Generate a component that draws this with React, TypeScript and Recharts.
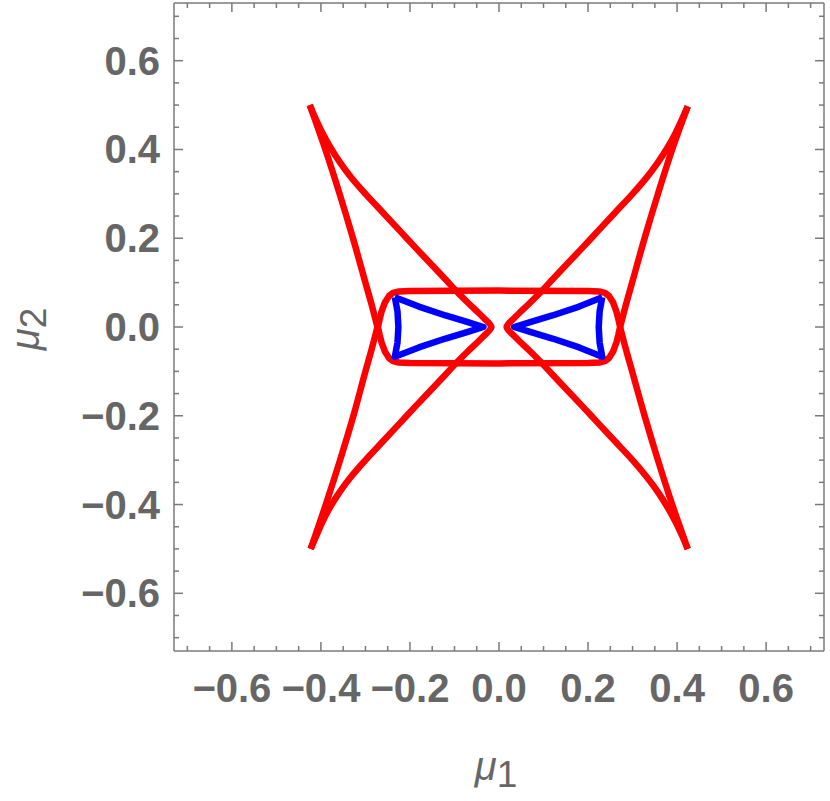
import { ScatterChart, Scatter, XAxis, YAxis } from "recharts"

const RED = "#ff0000"
const BLUE = "#0000ff"
const FRAME = "#7a7a7a"
const TEXT = "#666666"
const FONT = "'Liberation Sans', Arial, sans-serif"

// frame ticks: minor every 0.05, labelled every 0.2
const TICKS = [
  -0.7, -0.65, -0.6, -0.55, -0.5, -0.45, -0.4, -0.35, -0.3, -0.25, -0.2, -0.15, -0.1, -0.05, 0,
  0.05, 0.1, 0.15, 0.2, 0.25, 0.3, 0.35, 0.4, 0.45, 0.5, 0.55, 0.6, 0.65, 0.7,
]
const MAJOR_TICKS = [-0.6, -0.4, -0.2, 0, 0.2, 0.4, 0.6]

type Pt = [number, number]

// red caustic: outer branches (cusp -> fold at y=0)
const outerTopLeft: Pt[] = [
  [-0.425, 0.5], [-0.39, 0.4], [-0.358, 0.3], [-0.328, 0.2], [-0.3, 0.1], [-0.286, 0.05], [-0.273, 0],
]
const outerBottomLeft: Pt[] = [
  [-0.423, -0.5], [-0.389, -0.4], [-0.357, -0.3], [-0.327, -0.2], [-0.3, -0.1], [-0.286, -0.05], [-0.273, 0],
]
const outerTopRight: Pt[] = [
  [0.424, 0.497], [0.389, 0.4], [0.357, 0.3], [0.327, 0.2], [0.299, 0.1], [0.285, 0.05], [0.272, 0],
]
const outerBottomRight: Pt[] = [
  [0.424, -0.5], [0.389, -0.4], [0.357, -0.3], [0.327, -0.2], [0.299, -0.1], [0.285, -0.05], [0.272, 0],
]

// red caustic: inner branches (top cusp -> rounded tip near centre -> bottom cusp)
const innerLeft: Pt[] = [
  [-0.425, 0.5], [-0.413, 0.472], [-0.398, 0.44], [-0.38, 0.407], [-0.358, 0.372], [-0.332, 0.337],
  [-0.3, 0.3], [-0.26, 0.257], [-0.222, 0.216], [-0.185, 0.176], [-0.148, 0.137], [-0.12, 0.107],
  [-0.095, 0.08], [-0.068, 0.053], [-0.045, 0.031], [-0.03, 0.016], [-0.021, 0.007], [-0.017, 0],
  [-0.021, -0.007], [-0.03, -0.016], [-0.045, -0.031], [-0.068, -0.053], [-0.095, -0.08],
  [-0.12, -0.107], [-0.148, -0.137], [-0.185, -0.176], [-0.222, -0.216], [-0.26, -0.257],
  [-0.3, -0.3], [-0.332, -0.337], [-0.358, -0.372], [-0.38, -0.407], [-0.397, -0.44],
  [-0.411, -0.472], [-0.423, -0.5],
]
const innerRight: Pt[] = [
  [0.424, 0.497], [0.412, 0.47], [0.397, 0.438], [0.379, 0.405], [0.357, 0.371], [0.331, 0.336],
  [0.3, 0.3], [0.26, 0.257], [0.222, 0.216], [0.185, 0.176], [0.148, 0.137], [0.12, 0.107],
  [0.095, 0.08], [0.068, 0.053], [0.045, 0.031], [0.03, 0.016], [0.021, 0.007], [0.017, 0],
  [0.021, -0.007], [0.03, -0.016], [0.045, -0.031], [0.068, -0.053], [0.095, -0.08],
  [0.12, -0.107], [0.148, -0.137], [0.185, -0.176], [0.222, -0.216], [0.26, -0.257],
  [0.3, -0.3], [0.331, -0.337], [0.357, -0.372], [0.379, -0.407], [0.397, -0.44],
  [0.412, -0.472], [0.424, -0.5],
]

// red rounded box around the origin
const box: Pt[] = [
  [-0.272, 0], [-0.268, 0.018], [-0.264, 0.034], [-0.256, 0.056], [-0.247, 0.07], [-0.238, 0.077],
  [-0.225, 0.08], [-0.2, 0.081], [0, 0.082], [0.2, 0.081], [0.225, 0.08], [0.238, 0.077],
  [0.247, 0.07], [0.256, 0.056], [0.264, 0.034], [0.268, 0.018], [0.272, 0], [0.268, -0.018],
  [0.264, -0.034], [0.256, -0.056], [0.247, -0.07], [0.238, -0.077], [0.225, -0.08], [0.2, -0.081],
  [0, -0.082], [-0.2, -0.081], [-0.225, -0.08], [-0.238, -0.077], [-0.247, -0.07], [-0.256, -0.056],
  [-0.264, -0.034], [-0.268, -0.018], [-0.272, 0],
]

// blue triangles
const blueLeft: Pt[] = [
  [-0.234, 0.067], [-0.18, 0.046], [-0.12, 0.026], [-0.07, 0.011], [-0.035, 0], [-0.07, -0.011],
  [-0.12, -0.026], [-0.18, -0.046], [-0.234, -0.067], [-0.228, -0.035], [-0.226, 0],
  [-0.228, 0.035], [-0.234, 0.067],
]
const blueRight: Pt[] = [
  [0.232, 0.067], [0.18, 0.046], [0.12, 0.026], [0.07, 0.011], [0.034, 0], [0.07, -0.011],
  [0.12, -0.026], [0.18, -0.046], [0.232, -0.067], [0.226, -0.035], [0.224, 0],
  [0.226, 0.035], [0.232, 0.067],
]

const RED_BRANCHES = [outerTopLeft, outerBottomLeft, outerTopRight, outerBottomRight, innerLeft, innerRight]
const BLUE_CURVES = [blueLeft, blueRight]

const DOMAIN: [number, number] = [-0.73, 0.73]
const STROKE = 6.5

const tickText = (v: number) => v.toFixed(1).replace("-", "\u2212")
const isMajor = (v: number) => MAJOR_TICKS.some((m) => Math.abs(m - v) < 1e-9)
const tickLen = (v: number) => (isMajor(v) ? 9 : 5)

const labelStyle = { fontFamily: FONT, fontSize: 40, fontWeight: 700, fill: TEXT }

function BottomTick(props: any) {
  const { x, y, payload } = props
  const v = payload.value
  return (
    <g>
      <line x1={x} x2={x} y1={y} y2={y - tickLen(v)} stroke={FRAME} strokeWidth={1.5} />
      {isMajor(v) && (
        <text x={x} y={y + 51} textAnchor="middle" {...labelStyle}>
          {tickText(v)}
        </text>
      )}
    </g>
  )
}

function TopTick(props: any) {
  const { x, y, payload } = props
  return <line x1={x} x2={x} y1={y} y2={y + tickLen(payload.value)} stroke={FRAME} strokeWidth={1.5} />
}

function LeftTick(props: any) {
  const { x, y, payload } = props
  const v = payload.value
  return (
    <g>
      <line x1={x} x2={x + tickLen(v)} y1={y} y2={y} stroke={FRAME} strokeWidth={1.5} />
      {isMajor(v) && (
        <text x={x - 14} y={y + 14} textAnchor="end" {...labelStyle}>
          {tickText(v)}
        </text>
      )}
    </g>
  )
}

function RightTick(props: any) {
  const { x, y, payload } = props
  return <line x1={x} x2={x - tickLen(payload.value)} y1={y} y2={y} stroke={FRAME} strokeWidth={1.5} />
}

const XTitle = () => (
  <text x={496} y={780} textAnchor="middle" fontFamily={FONT} fontSize={40} fill={TEXT}>
    <tspan fontStyle="italic">μ</tspan>
    <tspan fontSize={37} dy={7}>1</tspan>
  </text>
)

const YTitle = () => (
  <text
    x={39}
    y={329}
    transform="rotate(-90, 39, 329)"
    textAnchor="middle"
    fontFamily={FONT}
    fontSize={40}
    fill={TEXT}
  >
    <tspan fontStyle="italic">μ</tspan>
    <tspan fontSize={37} dy={7}>2</tspan>
  </text>
)

const noDot = () => <g />

const lineStyle = (color: string) => ({
  stroke: color,
  strokeWidth: STROKE,
  strokeLinejoin: "round" as const,
  strokeLinecap: "butt" as const,
})

export default function App() {
  return (
    <div style={{ position: "absolute", left: 0, top: 0, width: 830, height: 801, background: "#fff" }}>
      <ScatterChart width={830} height={801} margin={{ top: 2, right: 5, bottom: 100, left: 114 }}>
        <XAxis
          type="number"
          dataKey="x"
          domain={DOMAIN}
          allowDataOverflow
          ticks={TICKS}
          interval={0}
          height={50}
          tickSize={0}
          tickMargin={0}
          tickLine={false}
          axisLine={{ stroke: FRAME, strokeWidth: 1.5 }}
          tick={BottomTick}
          label={{ content: XTitle }}
        />
        <XAxis
          xAxisId="top"
          orientation="top"
          type="number"
          dataKey="x"
          domain={DOMAIN}
          allowDataOverflow
          ticks={TICKS}
          interval={0}
          height={1}
          tickSize={0}
          tickMargin={0}
          tickLine={false}
          axisLine={{ stroke: FRAME, strokeWidth: 1.5 }}
          tick={TopTick}
        />
        <YAxis
          type="number"
          dataKey="y"
          domain={DOMAIN}
          allowDataOverflow
          ticks={TICKS}
          interval={0}
          width={60}
          tickSize={0}
          tickMargin={0}
          tickLine={false}
          axisLine={{ stroke: FRAME, strokeWidth: 1.5 }}
          tick={LeftTick}
          label={{ content: YTitle }}
        />
        <YAxis
          yAxisId="right"
          orientation="right"
          type="number"
          dataKey="y"
          domain={DOMAIN}
          allowDataOverflow
          ticks={TICKS}
          interval={0}
          width={1}
          tickSize={0}
          tickMargin={0}
          tickLine={false}
          axisLine={{ stroke: FRAME, strokeWidth: 1.5 }}
          tick={RightTick}
        />
        {RED_BRANCHES.map((pts, i) => (
          <Scatter
            key={"r" + i}
            data={pts.map(([x, y]) => ({ x, y }))}
            line={lineStyle(RED)}
            lineJointType="monotoneY"
            shape={noDot}
            isAnimationActive={false}
          />
        ))}
        <Scatter
          data={box.map(([x, y]) => ({ x, y }))}
          line={lineStyle(RED)}
          lineJointType="linear"
          shape={noDot}
          isAnimationActive={false}
        />
        {BLUE_CURVES.map((pts, i) => (
          <Scatter
            key={"b" + i}
            data={pts.map(([x, y]) => ({ x, y }))}
            line={lineStyle(BLUE)}
            lineJointType="linear"
            shape={noDot}
            isAnimationActive={false}
          />
        ))}
      </ScatterChart>
    </div>
  )
}
